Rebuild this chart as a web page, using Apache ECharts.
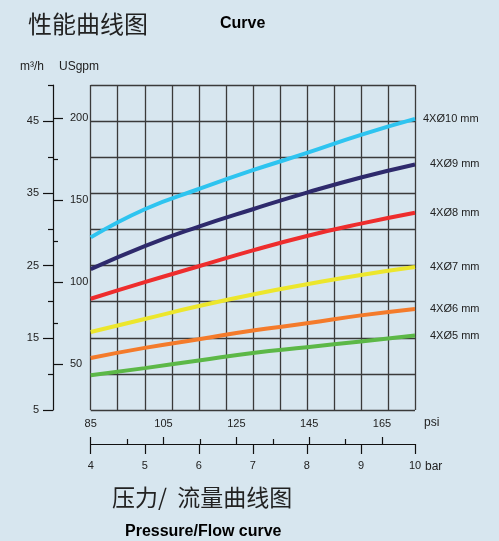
<!DOCTYPE html>
<html>
<head>
<meta charset="utf-8">
<script src="https://cdn.jsdelivr.net/npm/echarts@6/dist/echarts.min.js"></script>
<style>
  html, body { margin: 0; padding: 0; background: #d7e6ef; }
  #chart { width: 499px; height: 541px; }
</style>
</head>
<body>
<div id="chart"></div>
<script>
// pressure in bar (x), flow in m3/h (y)
var bars = [4, 5, 6, 7, 8, 9, 10];
var names = ['4XØ10 mm', '4XØ9 mm', '4XØ8 mm', '4XØ7 mm', '4XØ6 mm', '4XØ5 mm'];
var colors = ['#2ec4f0', '#2e2a6c', '#ee2d2d', '#ece62c', '#f47b2b', '#5cb847'];
var flow10 = [28.9, 32.8, 35.6, 38.2, 40.6, 43.1, 45.3];
var flow9 = [24.5, 27.7, 30.4, 32.8, 35.1, 37.2, 39.0];
var flow8 = [20.4, 22.7, 24.9, 27.1, 29.1, 30.8, 32.3];
var flow7 = [15.8, 17.6, 19.4, 21.0, 22.4, 23.7, 24.8];
var flow6 = [12.2, 13.6, 14.8, 16.0, 17.0, 18.1, 19.0];
var flow5 = [9.8, 10.8, 11.85, 12.9, 13.7, 14.5, 15.3];
var flows = [flow10, flow9, flow8, flow7, flow6, flow5];

var m3Labels = [5, 15, 25, 35, 45];
var m3Minor = [10, 20, 30, 40, 50];
var gpmLabels = [50, 100, 150, 200];
var gpmMinor = [75, 125, 175];
var psiLabels = [85, 105, 125, 145, 165];
var psiMinor = [95, 115, 135, 155];

var M3_TO_GPM = 4.403;
var PSI_PER_PX = 1 / 3.641;

var font = 'Liberation Sans, Arial, sans-serif';
var gridColor = '#3a3a3a';

var myChart = echarts.init(document.getElementById('chart'));

var series = [];
for (var i = 0; i < names.length; i++) {
  series.push({
    name: names[i],
    type: 'line',
    smooth: true,
    symbol: 'none',
    xAxisIndex: 0,
    yAxisIndex: 0,
    lineStyle: { width: 4, color: colors[i] },
    endLabel: {
      show: true,
      formatter: '{a}',
      distance: i == 0 ? 8 : 15,
      color: '#222',
      fontSize: 11,
      fontFamily: font
    },
    data: bars.map(function (b, j) { return [b, flows[i][j]]; })
  });
}

var hidden = { show: false };

var option = {
  backgroundColor: '#d7e6ef',
  animation: false,
  grid: { left: 90.7, right: 84, top: 85, bottom: 131 },
  xAxis: [{
    // grid columns every 0.5 bar
    type: 'value', min: 4, max: 10, interval: 0.5,
    axisLine: hidden, axisTick: hidden, axisLabel: hidden,
    splitLine: { show: true, lineStyle: { color: gridColor, width: 1.3 } }
  }, {
    // bar scale
    type: 'value', position: 'bottom', offset: 34, min: 4, max: 10, interval: 1,
    axisLine: { show: true, lineStyle: { color: '#111', width: 1.2 } },
    axisTick: { show: true, length: 10, lineStyle: { color: '#111', width: 1.2 } },
    axisLabel: { margin: 16, color: '#222', fontSize: 11, fontFamily: font },
    splitLine: hidden
  }, {
    // psi scale, major ticks above the line
    type: 'value', position: 'bottom', offset: 34, min: 85, max: 85 + 324.3 * PSI_PER_PX,
    axisLine: hidden,
    axisTick: { show: true, inside: true, length: 7, customValues: psiLabels,
      lineStyle: { color: '#111', width: 1.2 } },
    axisLabel: { inside: true, margin: 15, customValues: psiLabels,
      color: '#222', fontSize: 11, fontFamily: font },
    splitLine: hidden
  }, {
    // psi minor ticks
    type: 'value', position: 'bottom', offset: 34, min: 85, max: 85 + 324.3 * PSI_PER_PX,
    axisLine: hidden,
    axisTick: { show: true, inside: true, length: 5, customValues: psiMinor,
      lineStyle: { color: '#111', width: 1.2 } },
    axisLabel: hidden,
    splitLine: hidden
  }],
  yAxis: [{
    // grid rows every 5 m3/h
    type: 'value', min: 5, max: 50, interval: 5,
    axisLine: hidden, axisTick: hidden, axisLabel: hidden,
    splitLine: { show: true, lineStyle: { color: gridColor, width: 1.3 } }
  }, {
    type: 'value', position: 'left', offset: 37.7, min: 5, max: 50, interval: 5,
    axisLine: { show: true, lineStyle: { color: '#111', width: 1.2 } },
    axisTick: { show: true, length: 10, customValues: m3Labels,
      lineStyle: { color: '#111', width: 1.2 } },
    axisLabel: { margin: 14, customValues: m3Labels,
      color: '#222', fontSize: 11, fontFamily: font },
    splitLine: hidden
  }, {
    type: 'value', position: 'left', offset: 37.7, min: 5, max: 50,
    axisLine: hidden,
    axisTick: { show: true, length: 5, customValues: m3Minor,
      lineStyle: { color: '#111', width: 1.2 } },
    axisLabel: hidden,
    splitLine: hidden
  }, {
    // USgpm on the same line, ticks and labels to the right
    type: 'value', position: 'left', offset: 37.7,
    min: 5 * M3_TO_GPM, max: 50 * M3_TO_GPM,
    axisLine: hidden,
    axisTick: { show: true, inside: true, length: 10, customValues: gpmLabels,
      lineStyle: { color: '#111', width: 1.2 } },
    axisLabel: { inside: true, margin: 17, customValues: gpmLabels,
      color: '#222', fontSize: 11, fontFamily: font },
    splitLine: hidden
  }, {
    type: 'value', position: 'left', offset: 37.7,
    min: 5 * M3_TO_GPM, max: 50 * M3_TO_GPM,
    axisLine: hidden,
    axisTick: { show: true, inside: true, length: 5, customValues: gpmMinor,
      lineStyle: { color: '#111', width: 1.2 } },
    axisLabel: hidden,
    splitLine: hidden
  }],
  graphic: [
    { type: 'text', x: 28, y: 24, style: { text: '性能曲线图', fill: '#222',
      font: '24px "Noto Sans CJK SC"', align: 'left', verticalAlign: 'middle' } },
    { type: 'text', x: 220, y: 24, style: { text: 'Curve', fill: '#000',
      font: 'bold 16px ' + font, align: 'left', verticalAlign: 'middle' } },
    { type: 'text', x: 44, y: 67, style: { text: 'm³/h', fill: '#222',
      font: '12px ' + font, align: 'right', verticalAlign: 'middle' } },
    { type: 'text', x: 59, y: 67, style: { text: 'USgpm', fill: '#222',
      font: '12px ' + font, align: 'left', verticalAlign: 'middle' } },
    { type: 'text', x: 424, y: 423, style: { text: 'psi', fill: '#222',
      font: '12px ' + font, align: 'left', verticalAlign: 'middle' } },
    { type: 'text', x: 425, y: 467, style: { text: 'bar', fill: '#222',
      font: '12px ' + font, align: 'left', verticalAlign: 'middle' } },
    { type: 'text', x: 112, y: 497, style: { text: '压力/  流量曲线图', fill: '#222',
      font: '23px "Noto Sans CJK SC"', align: 'left', verticalAlign: 'middle' } },
    { type: 'text', x: 125, y: 532, style: { text: 'Pressure/Flow curve', fill: '#000',
      font: 'bold 16px ' + font, align: 'left', verticalAlign: 'middle' } }
  ],
  series: series
};
myChart.setOption(option);
</script>
</body>
</html>
